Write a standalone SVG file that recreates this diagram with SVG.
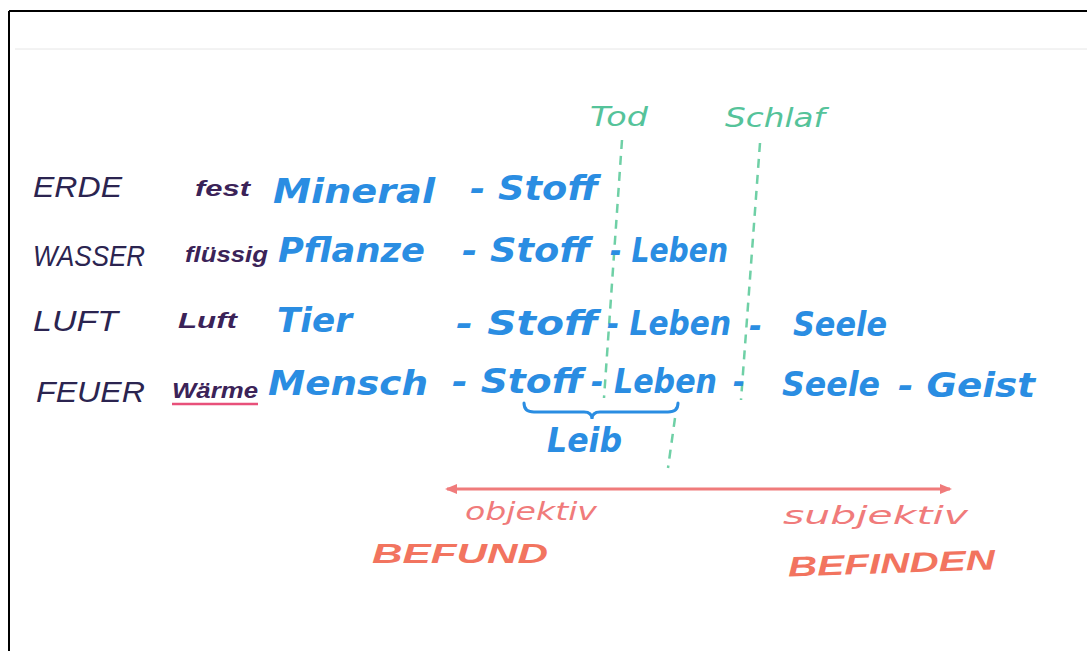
<svg xmlns="http://www.w3.org/2000/svg" width="1087" height="651" viewBox="0 0 1087 651">
<defs>
<style>
.el{font-family:"Liberation Sans",Arial,sans-serif;font-style:italic;font-weight:normal;fill:#2b2450;font-size:29px}
.st{font-family:"Liberation Sans",Arial,sans-serif;font-style:italic;font-weight:bold;fill:#3b2358;font-size:22px}
.bl{font-family:"DejaVu Sans","Liberation Sans",sans-serif;font-style:italic;font-weight:bold;fill:#2a8de2;font-size:34px}
.gr{font-family:"DejaVu Sans","Liberation Sans",sans-serif;font-style:italic;fill:#55c39a;font-size:27px}
.rd{font-family:"DejaVu Sans","Liberation Sans",sans-serif;font-style:italic;fill:#f07b7b;font-size:24px}
.RD{font-family:"Liberation Sans",Arial,sans-serif;font-style:italic;font-weight:bold;fill:#f2745f;font-size:28px}
.dash{stroke:#6fd0a6;stroke-width:2.5;stroke-dasharray:9 7;fill:none}
</style>
<marker id="ah" viewBox="0 0 12 12" refX="10" refY="6" markerWidth="14" markerHeight="12" markerUnits="userSpaceOnUse" orient="auto-start-reverse">
<path d="M0,1 L12,6 L0,11 Z" fill="#f07b7b"/>
</marker>
</defs>
<rect width="1087" height="651" fill="#ffffff"/>
<line x1="9" y1="11" x2="1087" y2="11" stroke="#000" stroke-width="2"/>
<line x1="9" y1="11" x2="9" y2="651" stroke="#000" stroke-width="2"/>
<line x1="15" y1="49" x2="1087" y2="49" stroke="#e6e6e6" stroke-width="1"/>

<g id="connectors">
<line class="dash" x1="622" y1="140" x2="604" y2="398"/>
<line class="dash" x1="760" y1="143" x2="741" y2="400"/>
<line class="dash" x1="675" y1="418" x2="668" y2="468"/>
<line x1="447" y1="489" x2="950" y2="489" stroke="#f07b7b" stroke-width="3" marker-start="url(#ah)" marker-end="url(#ah)"/>
<path d="M524,403 Q524,412 534,412 L584,412 Q592,412 592,419 Q592,412 600,412 L668,412 Q678,412 678,403" stroke="#2a8de2" stroke-width="3" fill="none" stroke-linecap="round"/>
<line x1="172" y1="404" x2="258" y2="404" stroke="#e8507a" stroke-width="2.5"/>
</g>

<g id="tod"><text class="gr" x="590" y="126" textLength="58" lengthAdjust="spacingAndGlyphs">Tod</text></g>
<g id="schlaf"><text class="gr" x="725" y="127" textLength="100" lengthAdjust="spacingAndGlyphs">Schlaf</text></g>

<g id="row-erde">
<text class="el" x="33" y="197" textLength="89" lengthAdjust="spacingAndGlyphs">ERDE</text>
<text class="st" x="195" y="196" textLength="55" lengthAdjust="spacingAndGlyphs">fest</text>
<text class="bl" x="273" y="203" textLength="162" lengthAdjust="spacingAndGlyphs">Mineral</text>
<text class="bl" x="470" y="200" textLength="128" lengthAdjust="spacingAndGlyphs">- Stoff</text>
</g>
<g id="row-wasser">
<text class="el" x="33" y="266" textLength="112" lengthAdjust="spacingAndGlyphs">WASSER</text>
<text class="st" x="185" y="262" textLength="83" lengthAdjust="spacingAndGlyphs">flüssig</text>
<text class="bl" x="278" y="262" textLength="147" lengthAdjust="spacingAndGlyphs">Pflanze</text>
<text class="bl" x="462" y="262" textLength="128" lengthAdjust="spacingAndGlyphs">- Stoff</text>
<text class="bl" x="610" y="262" textLength="118" lengthAdjust="spacingAndGlyphs">- Leben</text>
</g>
<g id="row-luft">
<text class="el" x="33" y="331" textLength="85" lengthAdjust="spacingAndGlyphs">LUFT</text>
<text class="st" x="178" y="328" textLength="59" lengthAdjust="spacingAndGlyphs">Luft</text>
<text class="bl" x="277" y="332" textLength="75" lengthAdjust="spacingAndGlyphs">Tier</text>
<text class="bl" x="456" y="335" textLength="142" lengthAdjust="spacingAndGlyphs">- Stoff</text>
<text class="bl" x="607" y="335" textLength="124" lengthAdjust="spacingAndGlyphs">- Leben</text>
<text class="bl" x="749" y="337" textLength="13" lengthAdjust="spacingAndGlyphs">-</text>
<text class="bl" x="793" y="336" textLength="94" lengthAdjust="spacingAndGlyphs">Seele</text>
</g>
<g id="row-feuer">
<text class="el" x="36" y="402" textLength="109" lengthAdjust="spacingAndGlyphs">FEUER</text>
<text class="st" x="172" y="398" textLength="86" lengthAdjust="spacingAndGlyphs" fill="#2a1e40">Wärme</text>
<text class="bl" x="268" y="395" textLength="160" lengthAdjust="spacingAndGlyphs">Mensch</text>
<text class="bl" x="452" y="393" textLength="131" lengthAdjust="spacingAndGlyphs">- Stoff</text>
<text class="bl" x="591" y="393" textLength="126" lengthAdjust="spacingAndGlyphs">- Leben</text>
<text class="bl" x="733" y="393" textLength="12" lengthAdjust="spacingAndGlyphs">-</text>
<text class="bl" x="782" y="396" textLength="98" lengthAdjust="spacingAndGlyphs">Seele</text>
<text class="bl" x="898" y="397" textLength="137" lengthAdjust="spacingAndGlyphs">- Geist</text>
</g>
<g id="leib"><text class="bl" x="547" y="452" textLength="75" lengthAdjust="spacingAndGlyphs">Leib</text></g>

<g id="objektiv"><text class="rd" x="465" y="520" textLength="132" lengthAdjust="spacingAndGlyphs">objektiv</text></g>
<g id="subjektiv"><text class="rd" x="783" y="524" textLength="185" lengthAdjust="spacingAndGlyphs">subjektiv</text></g>
<g id="befund"><text class="RD" x="372" y="563" textLength="176" lengthAdjust="spacingAndGlyphs">BEFUND</text></g>
<g id="befinden"><text class="RD" x="788" y="573" textLength="207" lengthAdjust="spacingAndGlyphs" transform="rotate(-2 890 565)">BEFINDEN</text></g>
</svg>
